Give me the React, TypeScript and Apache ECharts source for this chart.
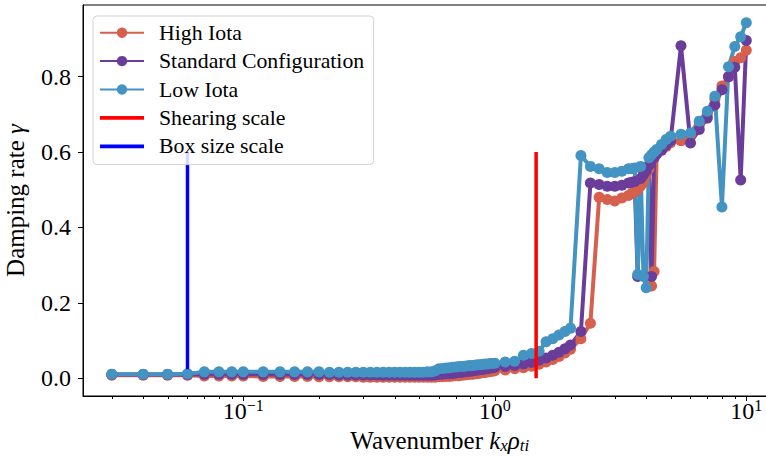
import React, { useEffect, useRef } from "react";
import * as echarts from "echarts";

const FONT = "Liberation Serif";

// Wavenumber grid k_x rho_ti
const kx = [
  0.03, 0.04, 0.05, 0.06, 0.07, 0.08, 0.09, 0.1,
  0.12, 0.14, 0.16, 0.18, 0.2, 0.22, 0.24, 0.26, 0.28, 0.3, 0.32, 0.34, 0.36, 0.38, 0.4, 0.42, 0.44, 0.46, 0.48, 0.5, 0.52, 0.54, 0.56, 0.58,
  0.6, 0.62, 0.64, 0.66, 0.68, 0.7, 0.72, 0.74, 0.76, 0.78, 0.8, 0.82, 0.84, 0.86, 0.88, 0.9, 0.92, 0.94, 0.96, 0.98, 1.0,
  1.1, 1.2, 1.3, 1.4, 1.5, 1.6, 1.7, 1.8, 1.9, 2.0,
  2.2, 2.4, 2.6, 2.8, 3.0, 3.2, 3.4,
  3.5, 3.6, 3.7, 3.8, 3.9, 4.0, 4.1, 4.2, 4.3, 4.4,
  4.6, 4.8, 5.0,
  5.5, 6.0, 6.5, 7.0, 7.5, 8.0, 8.5, 9.0, 9.5, 10.0,
];

const highIota = [
  0.008, 0.008, 0.008, 0.008, 0.006, 0.006, 0.006, 0.006,
  0.005, 0.005, 0.005, 0.005, 0.004, 0.004, 0.004, 0.004, 0.004, 0.003, 0.003, 0.003, 0.003, 0.003, 0.003, 0.003, 0.003, 0.003, 0.003, 0.003, 0.003, 0.003, 0.003, 0.003,
  0.004, 0.004, 0.005, 0.005, 0.006, 0.007, 0.007, 0.008, 0.009, 0.01, 0.011, 0.011, 0.012, 0.013, 0.014, 0.015, 0.016, 0.017, 0.018, 0.019, 0.02,
  0.022, 0.025, 0.028, 0.032, 0.037, 0.043, 0.05, 0.058, 0.067, 0.077,
  0.105, 0.146, 0.48, 0.474, 0.47, 0.478, 0.485,
  0.49, 0.495, 0.5, 0.51, 0.52, 0.54, 0.555, 0.245, 0.283, 0.595,
  0.605, 0.615, 0.625,
  0.63, 0.645, 0.672, 0.7, 0.74, 0.775, 0.8, 0.84, 0.85, 0.87,
];

const standardConfig = [
  0.01, 0.01, 0.01, 0.01, 0.011, 0.011, 0.011, 0.011,
  0.01, 0.01, 0.01, 0.01, 0.01, 0.01, 0.009, 0.009, 0.009, 0.009, 0.009, 0.009, 0.008, 0.008, 0.008, 0.008, 0.008, 0.008, 0.008, 0.008, 0.008, 0.008, 0.008, 0.009,
  0.01, 0.011, 0.012, 0.012, 0.013, 0.014, 0.015, 0.016, 0.017, 0.018, 0.019, 0.02, 0.021, 0.022, 0.023, 0.024, 0.025, 0.026, 0.027, 0.028, 0.029,
  0.031, 0.034, 0.038, 0.042, 0.048, 0.054, 0.061, 0.069, 0.078, 0.088,
  0.124, 0.518, 0.514, 0.509, 0.509, 0.512, 0.518,
  0.52, 0.522, 0.27, 0.53, 0.54, 0.55, 0.565, 0.27, 0.585, 0.595,
  0.605, 0.618, 0.63,
  0.882, 0.624, 0.66, 0.69, 0.725, 0.765, 0.8, 0.825, 0.526, 0.896,
];

const lowIota = [
  0.011, 0.011, 0.011, 0.012, 0.017, 0.017, 0.017, 0.017,
  0.017, 0.017, 0.017, 0.017, 0.017, 0.016, 0.016, 0.016, 0.016, 0.016, 0.016, 0.016, 0.016, 0.016, 0.016, 0.016, 0.016, 0.016, 0.016, 0.016, 0.016, 0.017, 0.017, 0.02,
  0.025, 0.026, 0.027, 0.028, 0.029, 0.03, 0.031, 0.031, 0.032, 0.033, 0.034, 0.034, 0.035, 0.036, 0.036, 0.037, 0.038, 0.038, 0.039, 0.039, 0.04,
  0.043, 0.045, 0.061, 0.066, 0.072, 0.097, 0.105, 0.115, 0.124, 0.133,
  0.591, 0.562, 0.556, 0.546, 0.546, 0.549, 0.556,
  0.556, 0.558, 0.275, 0.562, 0.27, 0.24, 0.585, 0.593, 0.6, 0.607,
  0.62, 0.633, 0.642,
  0.647, 0.651, 0.682, 0.708, 0.748, 0.454, 0.826, 0.88, 0.906, 0.943,
];

const shearingX = 1.46;
const shearingY = [0, 0.6];
const boxX = 0.06;
const boxY = [0.024, 0.6];

const yTicks = [0, 0.2, 0.4, 0.6, 0.8];
const xMajorTicks = [0.1, 1, 10];
const xMinorTicks = [0.03, 0.04, 0.05, 0.06, 0.07, 0.08, 0.09, 0.2, 0.3, 0.4, 0.5, 0.6, 0.7, 0.8, 0.9, 2, 3, 4, 5, 6, 7, 8, 9];

const seriesNames = ["High Iota", "Standard Configuration", "Low Iota", "Shearing scale", "Box size scale"];
const seriesColors = ["#d6604d", "#6a3d9a", "#4393c3", "#ff0000", "#0000ff"];

function tickSeries(values: number[], len: number) {
  return {
    type: "custom",
    silent: true,
    clip: false,
    z: 5,
    data: values.map((v) => [v, 0]),
    encode: { x: 0, y: 1 },
    renderItem: (params: any, api: any) => {
      const p = api.coord([api.value(0), 0]);
      const cs = params.coordSys;
      const x = Math.round(p[0]) + 0.5;
      const yb = cs.y + cs.height;
      return {
        type: "line",
        shape: { x1: x, y1: yb, x2: x, y2: yb + len },
        style: { stroke: "#000", lineWidth: 1 },
      };
    },
  };
}

export default function App() {
  const ref = useRef<HTMLDivElement>(null);
  useEffect(() => {
    const chart = echarts.init(ref.current!, null, { renderer: "svg" });
    const dataSeries = [highIota, standardConfig, lowIota].map((vals, i) => ({
      name: seriesNames[i],
      type: "line",
      data: kx.map((x, j) => [x, vals[j]]),
      symbol: "circle",
      symbolSize: 11,
      color: seriesColors[i],
      lineStyle: { width: 4, color: seriesColors[i] },
      itemStyle: { color: seriesColors[i] },
      emphasis: { disabled: true },
      z: 2,
    }));
    const vlines = [
      { x: shearingX, y: shearingY },
      { x: boxX, y: boxY },
    ].map((v, i) => ({
      name: seriesNames[3 + i],
      type: "line",
      data: [
        [v.x, v.y[0]],
        [v.x, v.y[1]],
      ],
      symbol: "none",
      color: seriesColors[3 + i],
      lineStyle: { width: 3.5, color: seriesColors[3 + i] },
      emphasis: { disabled: true },
      z: 3,
    }));
    const option: any = {
      animation: false,
      backgroundColor: "#fff",
      textStyle: { fontFamily: FONT },
      grid: {
        left: 83,
        top: 5,
        width: 713.6,
        bottom: 61,
        outerBoundsMode: "none",
        containLabel: false,
        show: true,
        borderColor: "#000",
        borderWidth: 1,
        backgroundColor: "transparent",
      },
      legend: {
        orient: "vertical",
        left: 93,
        top: 16,
        padding: [5.7, 9.4, 7.3, 6],
        itemGap: 6.4,
        itemWidth: 44,
        itemHeight: 13,
        backgroundColor: "rgba(255,255,255,0.85)",
        borderColor: "#d3d3d3",
        borderWidth: 1,
        borderRadius: 4,
        textStyle: { fontFamily: FONT, fontSize: 21.8, color: "#000", lineHeight: 22, padding: [0, 0, 0, 10] },
        data: [
          { name: seriesNames[0] },
          { name: seriesNames[1] },
          { name: seriesNames[2] },
          { name: seriesNames[3], icon: "path://M0,0H40V3.5H0Z" },
          { name: seriesNames[4], icon: "path://M0,0H40V3.5H0Z" },
        ],
      },
      xAxis: {
        type: "log",
        logBase: 10,
        min: 0.02305,
        max: 15.85,
        splitLine: { show: false },
        axisTick: { show: false },
        minorTick: { show: false },
        axisLine: { onZero: false, lineStyle: { color: "#000", width: 1 } },
        axisLabel: {
          showMinLabel: false,
          showMaxLabel: false,
          margin: 1,
          color: "#000",
          formatter: (v: number) => {
            const e = Math.log10(v);
            const r = Math.round(e);
            if (Math.abs(e - r) > 1e-6) return "";
            return "{b|10}{s|" + (r < 0 ? "\u2212" : "") + Math.abs(r) + "}";
          },
          rich: {
            b: { fontFamily: FONT, fontSize: 24, color: "#000", lineHeight: 28 },
            s: { fontFamily: FONT, fontSize: 16, color: "#000", lineHeight: 12, verticalAlign: "top" },
          },
        },
        name: "Wavenumber {i|k}{sub|x}{i|\u03C1}{sub|ti}",
        nameLocation: "middle",
        nameGap: 29,
        nameTextStyle: {
          fontFamily: FONT,
          fontSize: 25,
          color: "#000",
          lineHeight: 26,
          rich: {
            i: { fontFamily: FONT, fontSize: 25, fontStyle: "italic", color: "#000", lineHeight: 26 },
            sub: { fontFamily: FONT, fontSize: 17, fontStyle: "italic", color: "#000", lineHeight: 17, verticalAlign: "bottom" },
          },
        },
      },
      yAxis: {
        type: "value",
        min: -0.047,
        max: 0.99,
        splitLine: { show: false },
        axisLine: { show: true, onZero: false, lineStyle: { color: "#000", width: 1 } },
        axisTick: { show: true, customValues: yTicks, length: 5, lineStyle: { color: "#000", width: 1 } },
        axisLabel: {
          customValues: yTicks,
          margin: 12,
          fontFamily: FONT,
          fontSize: 24,
          color: "#000",
          formatter: (v: number) => v.toFixed(1),
        },
        name: "Damping rate {i|\u03B3}",
        nameLocation: "middle",
        nameGap: 49,
        nameTextStyle: {
          fontFamily: FONT,
          fontSize: 25,
          color: "#000",
          lineHeight: 30,
          rich: { i: { fontFamily: FONT, fontSize: 25, fontStyle: "italic", color: "#000", lineHeight: 30 } },
        },
      },
      series: [...dataSeries, ...vlines, tickSeries(xMajorTicks, 5), tickSeries(xMinorTicks, 3)],
    };
    chart.setOption(option);
    return () => chart.dispose();
  }, []);
  return <div ref={ref} style={{ position: "fixed", left: 0, top: 0, width: 766, height: 457 }} />;
}
